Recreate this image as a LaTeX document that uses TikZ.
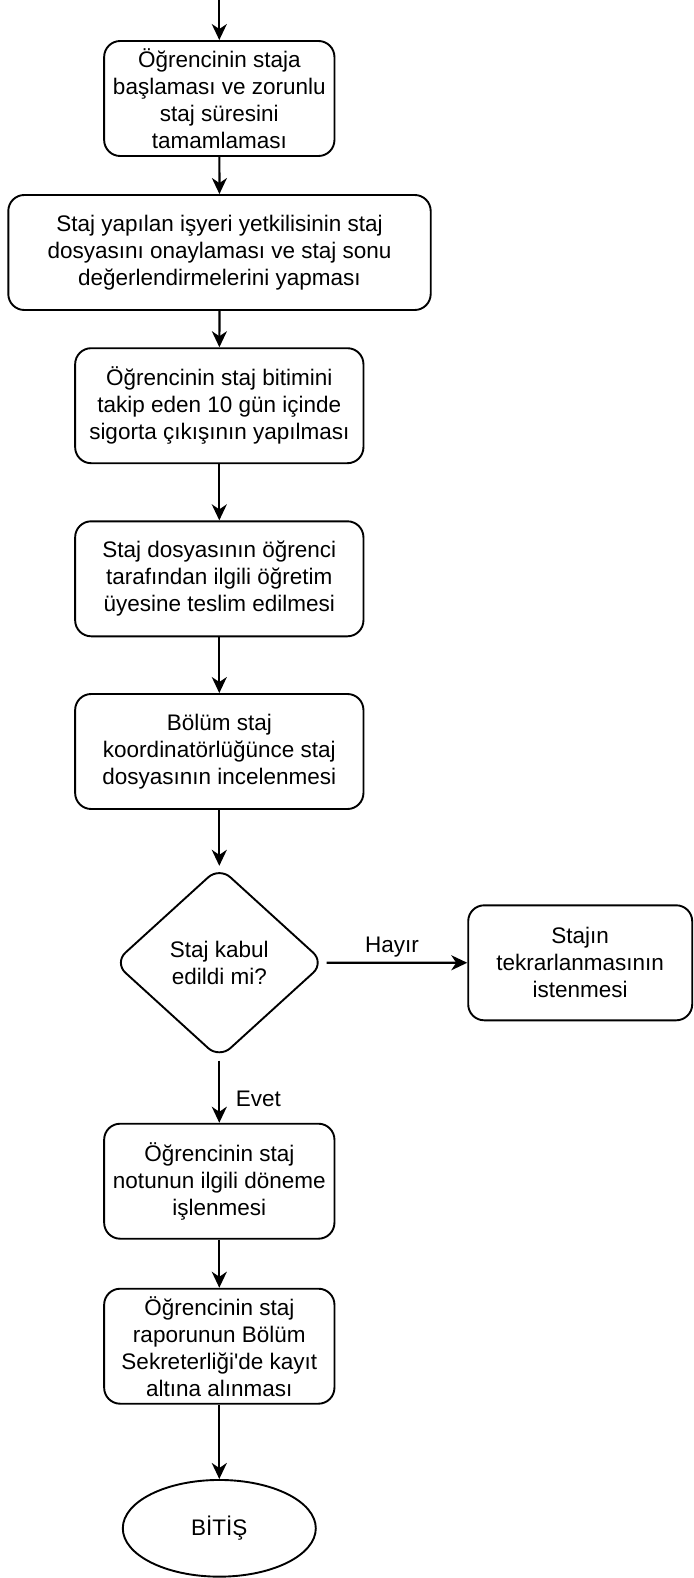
\documentclass[tikz,border=0pt]{standalone}
\usepackage{fontspec}
\setmainfont{Liberation Sans}
\setmonofont{Liberation Sans}
\usetikzlibrary{arrows.meta,shapes.geometric}
\begin{document}
\begin{tikzpicture}[x=1pt,y=-1pt,
  every node/.style={font=\fontsize{22.5}{27}\selectfont},
  procbox/.style={draw, line width=1.9pt, rounded corners=16pt, align=center,
    minimum height=115pt, inner sep=0pt},
  decision/.style={draw, diamond, line width=1.9pt, rounded corners=15pt, align=center,
    minimum width=210.6pt, minimum height=191.8pt, inner sep=0pt},
  terminal/.style={draw, ellipse, line width=1.9pt, minimum width=193pt,
    minimum height=96.7pt, inner sep=0pt},
  flow/.style={draw, line width=2.2pt, -{Stealth[length=16pt,width=15pt,inset=5pt]}},
  lbl/.style={inner sep=0pt}
]
\useasboundingbox (0,0) rectangle (693,1578);

\coordinate (start) at (219.3,0);
\node[procbox, minimum width=230.3pt] (b1) at (219.3,98.5)
  {Öğrencinin staja\\başlaması ve zorunlu\\staj süresini\\tamamlaması};
\node[procbox, minimum width=422.4pt] (b2) at (219.5,252.5)
  {Staj yapılan işyeri yetkilisinin staj\\dosyasını onaylaması ve staj sonu\\değerlendirmelerini yapması};
\node[procbox, minimum width=288.3pt] (b3) at (219.3,405.7)
  {Öğrencinin staj bitimini\\takip eden 10 gün içinde\\sigorta çıkışının yapılması};
\node[procbox, minimum width=288.3pt] (b4) at (219.3,578.8)
  {Staj dosyasının öğrenci\\tarafından ilgili öğretim\\üyesine teslim edilmesi};
\node[procbox, minimum width=288.3pt] (b5) at (219.3,751.5)
  {Bölüm staj\\koordinatörlüğünce staj\\dosyasının incelenmesi};
\node[decision] (d) at (219.3,962.7) {Staj kabul\\edildi mi?};
\node[procbox, minimum width=224pt] (r) at (580.2,962.8)
  {Stajın\\tekrarlanmasının\\istenmesi};
\node[procbox, minimum width=230.3pt] (b6) at (219.3,1181.2)
  {Öğrencinin staj\\notunun ilgili döneme\\işlenmesi};
\node[procbox, minimum width=230.3pt] (b7) at (219.3,1346.2)
  {Öğrencinin staj\\raporunun Bölüm\\Sekreterliği{\ttfamily'}de kayıt\\altına alınması};
\node[terminal] (end) at (219.3,1528.3) {BİTİŞ};

\node[lbl, anchor=base] (hayir) at (392,952.7) {Hayır};
\node[lbl, anchor=base west] (evet) at (235.7,1106) {Evet};

\draw[flow] (start) -- (b1);
\draw[flow] (b1) -- (b2);
\draw[flow] (b2) -- (b3);
\draw[flow] (b3) -- (b4);
\draw[flow] (b4) -- (b5);
\draw[flow] (b5) -- (d);
\draw[flow, shorten <=1pt] (d) -- (r);
\draw[flow, shorten <=1pt] (d) -- (b6);
\draw[flow] (b6) -- (b7);
\draw[flow] (b7) -- (end);
\end{tikzpicture}
\end{document}
